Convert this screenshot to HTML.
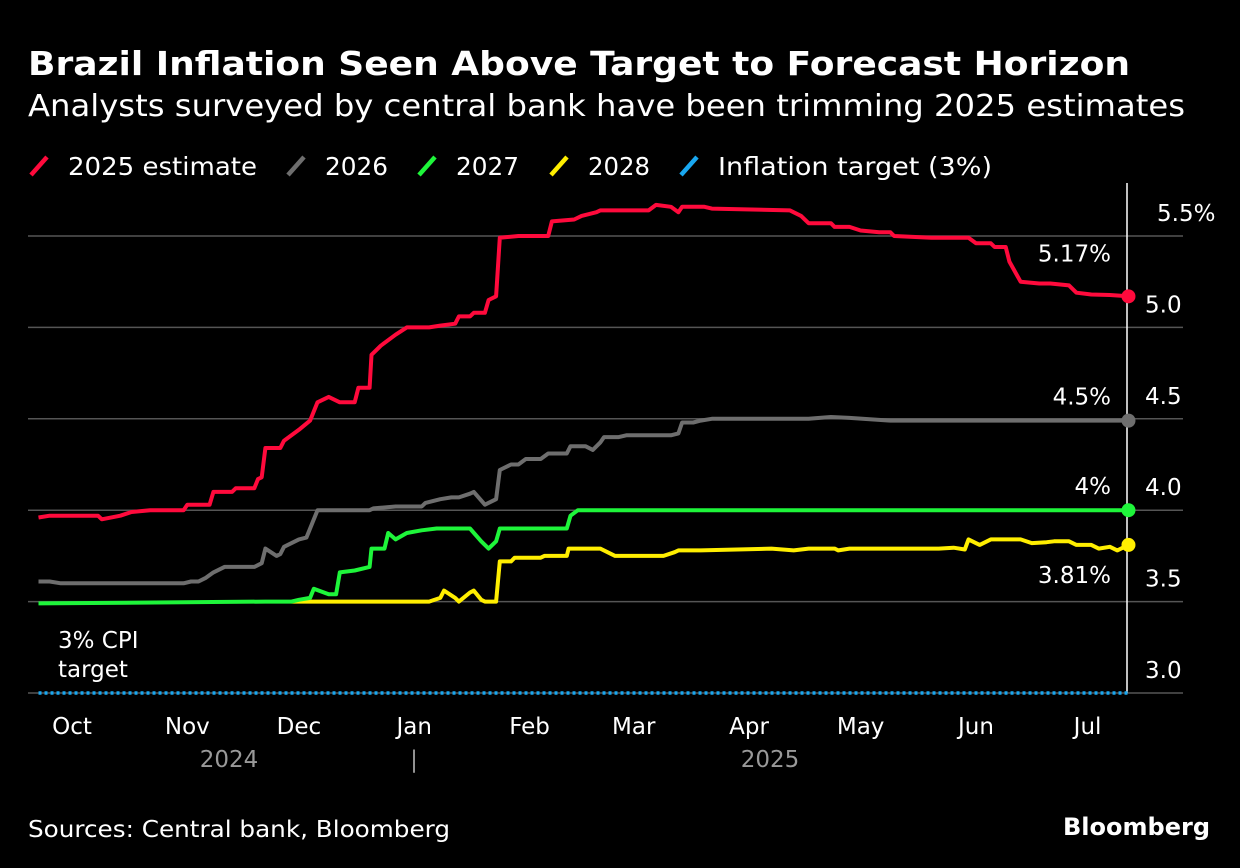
<!DOCTYPE html>
<html><head><meta charset="utf-8"><style>
html,body{margin:0;padding:0;background:#000;}
svg{display:block;font-family:"DejaVu Sans","Liberation Sans",sans-serif;}
</style></head><body>
<svg id="chart" width="1240" height="868" viewBox="0 0 1240 868" xmlns="http://www.w3.org/2000/svg">
<rect width="1240" height="868" fill="#000"/>
<text x="28" y="75" fill="#fff" font-size="33" font-weight="bold" textLength="1102" lengthAdjust="spacingAndGlyphs">Brazil Inflation Seen Above Target to Forecast Horizon</text>
<text x="28" y="116" fill="#fff" font-size="30" textLength="1157" lengthAdjust="spacingAndGlyphs">Analysts surveyed by central bank have been trimming 2025 estimates</text>
<g id="legend" font-size="25" fill="#fff"></g>
<g id="grid"></g>
<g id="series"></g>
<g id="labels" fill="#fff" font-size="23"></g>
<text x="58" y="648" fill="#fff" font-size="23">3% CPI</text>
<text x="58" y="677" fill="#fff" font-size="23">target</text>
<text x="28" y="837" fill="#fff" font-size="23" textLength="422" lengthAdjust="spacingAndGlyphs">Sources: Central bank, Bloomberg</text>
<text x="1210" y="835" fill="#fff" font-size="24" font-weight="bold" text-anchor="end">Bloomberg</text>
</svg>
<script>
// day offsets from 2024-10-01
const redDays = [-9,-6,7,8,13,16,21,30,31,37,38,43,44,49,50,51,52,56,57,61,64,66,69,72,76,77,80,80.5,83,87,90,96,99,103,104,107,108,111,112,114,115,120,128,129,135,137,141,142,155,157,161,163,164,170,172,193,196,198,204,205,209,212,217,220,221,231,233,241,243,247,248,251,252,255,260,263,268,270,274,279,284];
const redVals = [3.96,3.97,3.97,3.95,3.97,3.99,4.0,4.0,4.03,4.03,4.10,4.10,4.12,4.12,4.17,4.18,4.34,4.34,4.38,4.44,4.49,4.59,4.62,4.59,4.59,4.67,4.67,4.85,4.90,4.96,5.0,5.0,5.01,5.02,5.06,5.06,5.08,5.08,5.15,5.17,5.49,5.5,5.5,5.58,5.59,5.61,5.63,5.64,5.64,5.67,5.66,5.63,5.66,5.66,5.65,5.64,5.61,5.57,5.57,5.55,5.55,5.53,5.52,5.52,5.50,5.49,5.49,5.49,5.46,5.46,5.44,5.44,5.36,5.25,5.24,5.24,5.23,5.19,5.18,5.177,5.17];
const grayDays = [-9,-6,-3,1,2,30,32,34,36,38,41,49,51,52,55,56,57,61,63,64,66,80,81,87,88,94,95,99,102,104,107,108,111,114,115,118,120,122,126,128,133,134,138,140,142,143,147,149,161,163,164,167,169,172,198,201,204,209,220,281,284];
const grayVals = [3.61,3.61,3.60,3.60,3.60,3.60,3.61,3.61,3.63,3.66,3.69,3.69,3.71,3.79,3.75,3.76,3.80,3.84,3.85,3.90,4.0,4.0,4.01,4.02,4.02,4.02,4.04,4.06,4.07,4.07,4.09,4.10,4.03,4.06,4.22,4.25,4.25,4.28,4.28,4.31,4.31,4.35,4.35,4.33,4.37,4.40,4.40,4.41,4.41,4.42,4.48,4.48,4.49,4.50,4.50,4.505,4.51,4.505,4.49,4.49,4.49];
const greenDays = [-9,52,59,61,64,65,69,71,72,76,80,80.5,84,85,87,90,94,98,107,110,112,114,115,133,134,136,284];
const greenVals = [3.49,3.50,3.50,3.51,3.52,3.57,3.54,3.54,3.66,3.67,3.69,3.79,3.79,3.875,3.84,3.875,3.89,3.90,3.90,3.83,3.79,3.83,3.90,3.90,3.97,4.0,4.0];
const yellowDays = [59,96,99,100,103,104,107,108,110,111,114,115,118,119,126,127,133,133.5,142,143,146,147,159,162,163,169,188,194,198,205,206,209,233,237,240,241,244,247,255,258,262,264,268,270,274,276,279,281,284];
const yellowVals = [3.50,3.50,3.52,3.56,3.52,3.50,3.55,3.56,3.51,3.50,3.50,3.72,3.72,3.74,3.74,3.75,3.75,3.79,3.79,3.78,3.75,3.75,3.75,3.77,3.78,3.78,3.79,3.78,3.79,3.79,3.78,3.79,3.79,3.795,3.785,3.84,3.81,3.84,3.84,3.82,3.825,3.83,3.83,3.81,3.81,3.79,3.80,3.78,3.81];
const yTicks = [3.0,3.5,4.0,4.5,5.0,5.5];
const yTickLabels = ["3.0","3.5","4.0","4.5","5.0","5.5%"];
const monthDays = [0,31,61,92,123,151,182,212,243,273];
const monthLabels = ["Oct","Nov","Dec","Jan","Feb","Mar","Apr","May","Jun","Jul"];
const targetVal = 3.0;
const endLabels = ["5.17%","4.5%","4%","3.81%"];

const NS="http://www.w3.org/2000/svg";
const X = d => 72 + 3.72*d;
const Y = v => 693 - (v-3)*182.8;
function mk(tag, attrs, parent){const e=document.createElementNS(NS,tag);for(const k in attrs)e.setAttribute(k,attrs[k]);parent.appendChild(e);return e;}
const grid=document.getElementById('grid'), series=document.getElementById('series'), labels=document.getElementById('labels'), legend=document.getElementById('legend');

yTicks.forEach((t,i)=>{
  if(t!==3.0){const l=mk('line',{x1:28,x2:1183,y1:Y(t),y2:Y(t),stroke:'#555','stroke-width':1.5},grid);
  
  }
  const tx=mk('text',{x:(i===5?1157:1145),y:Y(t)-15,'font-size':23},labels);
  
  
  tx.textContent=yTickLabels[i];
});
const base=mk('line',{x1:28,x2:1183,y1:693,y2:693,stroke:'#555','stroke-width':1.5},grid);


const vl=mk('line',{x1:1127,x2:1127,y1:183,y2:693,stroke:'#fff','stroke-width':1.5},grid);



monthDays.forEach((d,i)=>{
  const t=mk('text',{x:X(d),y:734,'text-anchor':'middle'},labels);
  
  
  t.textContent=monthLabels[i];
});
[[229,"2024"],[770,"2025"],[414,"|"]].forEach(a=>{
  const t=mk('text',{x:a[0],y:767,'text-anchor':'middle',fill:'#999'},labels);
  
  
  t.textContent=a[1];
});

const tl=mk('line',{x1:X(-9),x2:X(284),y1:Y(targetVal),y2:Y(targetVal),stroke:'#19a7f0','stroke-width':3.5,'stroke-dasharray':'3 3'},series);



const defs=[[yellowDays,yellowVals,'#ffee00','series-2028'],[greenDays,greenVals,'#1ef53a','series-2027'],[grayDays,grayVals,'#6e6e6e','series-2026'],[redDays,redVals,'#ff0a3c','series-2025']];
defs.forEach(s=>{
  const pts=s[0].map((d,i)=>X(d).toFixed(1)+','+Y(s[1][i]).toFixed(1)).join(' ');
  const p=mk('polyline',{points:pts,fill:'none',stroke:s[2],'stroke-width':4,'stroke-linejoin':'round'},series);
  
  
});
const ends=[[redDays,redVals,'#ff0a3c',-35],[grayDays,grayVals,'#6e6e6e',-16],[greenDays,greenVals,'#1ef53a',-16],[yellowDays,yellowVals,'#ffee00',38]];
ends.forEach((s,i)=>{
  const d=s[0][s[0].length-1], v=s[1][s[1].length-1];
  const c=mk('circle',{cx:X(d),cy:Y(v),r:7,fill:s[2]},series);
  
  
  const t=mk('text',{x:1111,y:Y(v)+s[3],'text-anchor':'end'},labels);
  
  
  t.textContent=endLabels[i];
});

const leg=[['#ff0a3c','2025 estimate',28,189],['#6e6e6e','2026',285,63],['#1ef53a','2027',416,63],['#ffee00','2028',548,62],['#19a7f0','Inflation target (3%)',678,274]];
leg.forEach(l=>{
  const m=mk('line',{x1:l[2]+3,y1:175,x2:l[2]+19,y2:157,stroke:l[0],'stroke-width':4.5},legend);
  
  
  const t=mk('text',{x:l[2]+40,y:175,textLength:l[3],lengthAdjust:'spacingAndGlyphs'},legend);
  
  
  t.textContent=l[1];
});
</script>
</body></html>
